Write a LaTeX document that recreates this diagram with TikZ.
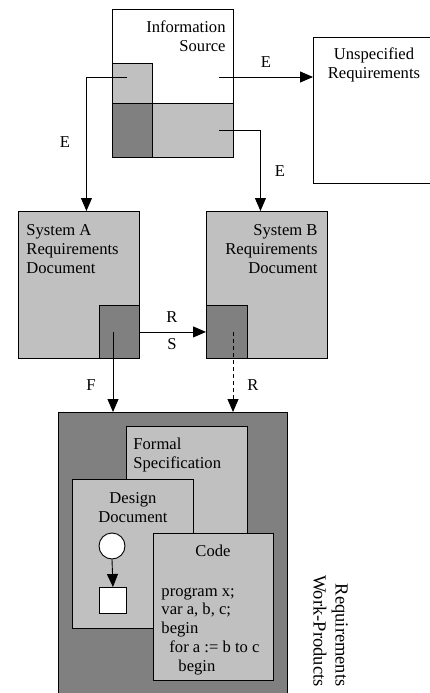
\documentclass[tikz,border=0pt]{standalone}
\usepackage{fontspec}
\setmainfont{Liberation Serif}
\usetikzlibrary{arrows.meta}
\definecolor{lightg}{RGB}{192,192,192}
\definecolor{darkg}{RGB}{128,128,128}

\begin{document}
\begin{tikzpicture}[x=1pt, y=-1pt, line width=0.9pt,
  panel/.style={draw=black, rectangle, anchor=north west, inner sep=0pt},
  txt/.style={font=\fontsize{16.6}{19}\selectfont, inner sep=0pt},
  arr/.style={-{Triangle[length=13pt,width=11pt]}},
  dashline/.style={dash pattern=on 4pt off 3pt}]
\clip (0,0) rectangle (430,693);

% information source with its parts
\node[panel, fill=white, minimum width=121pt, minimum height=148pt] (src) at (112,9) {};
\node[panel, fill=lightg, minimum width=40pt, minimum height=40pt] (srcA) at (112,63) {};
\node[panel, fill=darkg, minimum width=40pt, minimum height=54pt] (srcD) at (112,103) {};
\node[panel, fill=lightg, minimum width=81pt, minimum height=54pt] (srcB) at (152,103) {};
\node[txt, align=right, anchor=base east] (srcT) at (226,52) {Information\\Source};

% unspecified requirements
\node[panel, fill=white, minimum width=130pt, minimum height=146pt] (unspec) at (313,37) {};
\node[txt, align=center, anchor=base] (unspecT) at (374,78) {Unspecified\\Requirements};

% system requirements documents
\node[panel, fill=lightg, minimum width=121pt, minimum height=147pt] (sysA) at (18,211) {};
\node[panel, fill=darkg, minimum width=40pt, minimum height=53pt] (aD) at (99,305) {};
\node[txt, align=left, anchor=base west] (sysAT) at (26,273) {System A\\Requirements\\Document};

\node[panel, fill=lightg, minimum width=121pt, minimum height=147pt] (sysB) at (206,211) {};
\node[panel, fill=darkg, minimum width=41pt, minimum height=53pt] (bD) at (206,305) {};
\node[txt, align=right, anchor=base east] (sysBT) at (318,273) {System B\\Requirements\\Document};

% requirements work-products
\node[panel, fill=darkg, minimum width=229pt, minimum height=300pt] (wp) at (58,412) {};
\node[panel, fill=lightg, minimum width=121pt, minimum height=174pt] (formal) at (126,426) {};
\node[txt, align=left, anchor=base west] (formalT) at (133,468) {Formal\\Specification};
\node[panel, fill=lightg, minimum width=121pt, minimum height=149pt] (design) at (72,479) {};
\node[txt, align=center, anchor=base] (designT) at (133,522) {Design\\Document};
\node[draw=black, circle, fill=white, minimum size=26pt, inner sep=0pt] (circ) at (112,546) {};
\node[panel, fill=white, minimum width=27pt, minimum height=26pt] (sq) at (99,587) {};
\node[panel, fill=lightg, minimum width=120pt, minimum height=147pt] (code) at (153,533) {};
\node[txt, anchor=base] (codeT) at (213,556) {Code};
\node[txt, align=left, anchor=base west, font=\fontsize{16.6}{18.75}\selectfont] (prog) at (161,671)
  {program x;\\var a, b, c;\\begin\\\hspace*{8pt}for a := b to c\\\hspace*{17pt}begin};
\node[txt, rotate=-90, align=right, anchor=south east, font=\fontsize{18.5}{22}\selectfont] (wpT) at (313,687)
  {Requirements\\Work-Products};

% connectors
\coordinate (eL) at (127,77);
\coordinate (eR) at (219,77);
\coordinate (eB) at (219,130);
\coordinate (aF) at (113,332);
\coordinate (bR) at (233,332);
\draw[arr] (eL) -| ([xshift=7.5pt]sysA.north);
\draw[arr] (eR) -- (eR -| unspec.west);
\draw[arr] (eB) -| ([xshift=-6.5pt]sysB.north);
\draw[arr] (aD.east) -- (bD.west);
\draw[arr] (aF) -- (aF |- wp.north);
\draw[arr, dashline] (bR) -- (bR |- wp.north);
\draw[arr] (circ.south) -- (sq.north);

% connector labels
\node[txt] (lE1) at (65,142) {E};
\node[txt] (lE2) at (266,62) {E};
\node[txt] (lE3) at (280,171) {E};
\node[txt] (lR1) at (172,317) {R};
\node[txt] (lS) at (172,344) {S};
\node[txt] (lF) at (91,385) {F};
\node[txt] (lR2) at (253,385) {R};
\end{tikzpicture}
\end{document}
